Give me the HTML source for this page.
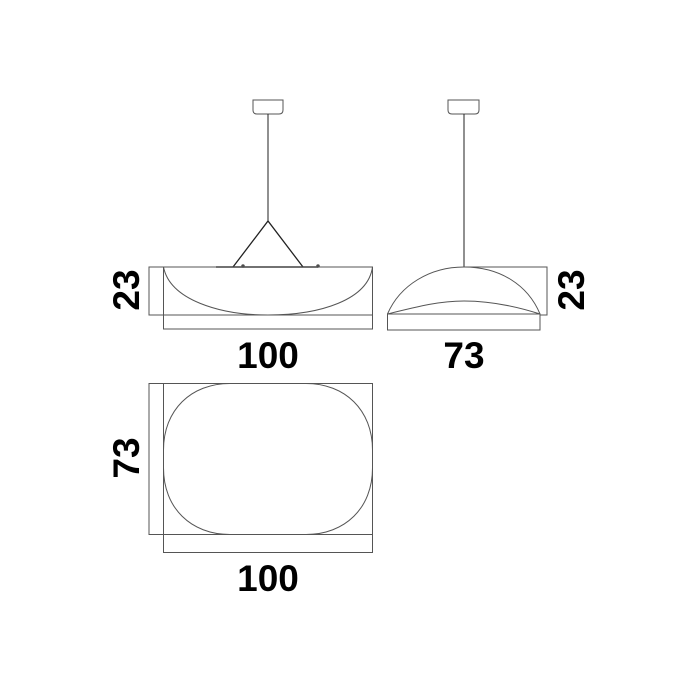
<!DOCTYPE html>
<html><head><style>html,body{margin:0;padding:0;background:#fff}svg{display:block}</style></head>
<body>
<svg width="700" height="700" viewBox="0 0 700 700" xmlns="http://www.w3.org/2000/svg">
<g fill="none" stroke="#555" stroke-width="1">
<path d="M253 100 H283 V110 Q283 114 279 114 H257 Q253 114 253 110 Z"/>
<line x1="268" y1="114" x2="268" y2="221" stroke="#222"/>
<path d="M233 267 L268 221 L303 267" stroke="#222" stroke-width="1.3"/>
<line x1="216" y1="267" x2="318" y2="267" stroke="#222" stroke-width="1.6"/>
<circle cx="243" cy="266" r="1.3" fill="#444"/>
<circle cx="318" cy="266" r="1.3" fill="#444"/>
<rect x="149" y="267" width="223.5" height="48"/>
<rect x="163.5" y="267" width="209" height="62"/>
<path d="M163.5 267 C170 300 220 315 268 315 C320 315 368 300 372.5 267"/>
<path d="M448 100 H479 V110 Q479 114 475 114 H452 Q448 114 448 110 Z"/>
<line x1="464" y1="114" x2="464" y2="267" stroke="#222"/>
<path d="M464 267 H547 V315 H540"/>
<rect x="387.5" y="314" width="152.5" height="16"/>
<path d="M387.5 314 C400 285 430 267 464 267 C500 267 528 285 540 314"/>
<path d="M387.5 314 C420 306 440 301 464 301 C490 301 515 306 540 314"/>
<rect x="149" y="383.5" width="223.5" height="151"/>
<rect x="163.5" y="383.5" width="209" height="169"/>
<path d="M230 383.5 H306 C345 383.5 372.5 410 372.5 450 V468 C372.5 508 345 534.5 306 534.5 H230 C191 534.5 163.5 508 163.5 468 V450 C163.5 410 191 383.5 230 383.5 Z"/>
</g>
<g font-family="Liberation Sans, sans-serif" font-weight="bold" font-size="37" fill="#000" text-anchor="middle">
<text x="268" y="368">100</text>
<text x="464" y="368">73</text>
<text x="268" y="591">100</text>
<text transform="translate(139 290) rotate(-90)">23</text>
<text transform="translate(584 290) rotate(-90)">23</text>
<text transform="translate(139 458) rotate(-90)">73</text>
</g>
</svg>
</body></html>
